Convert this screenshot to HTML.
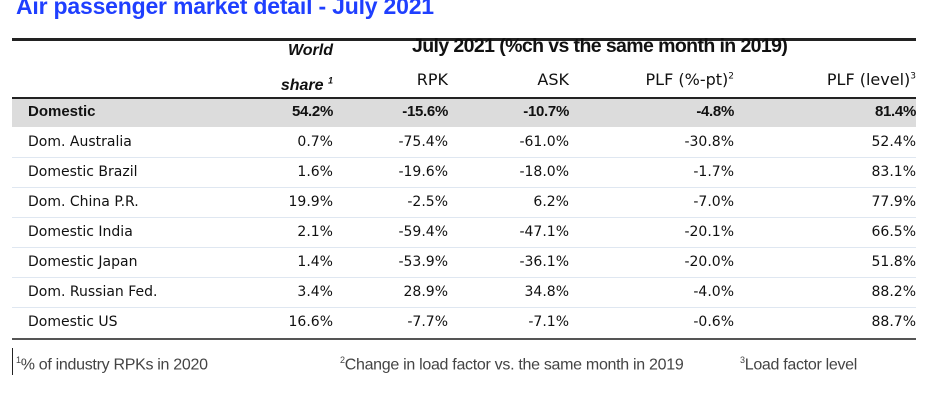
<!DOCTYPE html>
<html><head><meta charset="utf-8"><style>
body{margin:0;width:938px;height:401px;background:#fff;position:relative;overflow:hidden;font-family:"DejaVu Sans","Liberation Sans",sans-serif;color:#111}
.a{position:absolute;white-space:nowrap}
.r{text-align:right}
.row{position:absolute;left:12px;width:904px;height:30px}
.row span{position:absolute;top:0;line-height:30px;font-size:14px}
.sep{position:absolute;left:12px;width:904px;height:1px;background:#dfe7f1}
sup{font-size:9px}
.fn{font:16px 'Liberation Sans',sans-serif;color:#444;letter-spacing:-0.3px;top:355px}
</style></head><body>
<div class="a" style="left:16px;top:-8px;font:bold 23px 'Liberation Sans',sans-serif;color:#1f3fff;line-height:28px;letter-spacing:-0.2px">Air passenger market detail - July 2021</div>
<div class="a" style="left:12px;top:38px;width:904px;height:3px;background:#222"></div>
<div class="a" style="left:412px;top:34px;font:bold 19.5px 'Liberation Sans',sans-serif;line-height:24px;letter-spacing:-0.6px">July 2021 (%ch vs the same month in 2019)</div>
<div class="a r" style="left:233px;width:100px;top:40px;font:italic bold 16px 'Liberation Sans',sans-serif;line-height:22px">World<br><span style="line-height:38px">share <sup>1</sup></span></div>
<div class="a r" style="left:348px;width:100px;top:70px;font-size:16px">RPK</div>
<div class="a r" style="left:469px;width:100px;top:70px;font-size:16px">ASK</div>
<div class="a r" style="left:584px;width:150px;top:70px;font-size:16px">PLF (%-pt)<sup>2</sup></div>
<div class="a r" style="left:766px;width:150px;top:70px;font-size:16px">PLF (level)<sup>3</sup></div>
<div class="a" style="left:12px;top:97px;width:904px;height:2px;background:#222"></div>
<div id="rows"></div>
<div class="a" style="left:12px;top:338px;width:904px;height:2px;background:#555"></div>
<div class="a" style="left:12px;top:348px;width:1px;height:27px;background:#222"></div>
<div class="a fn" style="left:16px"><sup>1</sup>% of industry RPKs in 2020</div>
<div class="a fn" style="left:340px"><sup>2</sup>Change in load factor vs. the same month in 2019</div>
<div class="a fn" style="left:740px"><sup>3</sup>Load factor level</div>
<script>
const markets=["Domestic","Dom. Australia","Domestic Brazil","Dom. China P.R.","Domestic India","Domestic Japan","Dom. Russian Fed.","Domestic US"];
const share=["54.2%","0.7%","1.6%","19.9%","2.1%","1.4%","3.4%","16.6%"];
const rpk=["-15.6%","-75.4%","-19.6%","-2.5%","-59.4%","-53.9%","28.9%","-7.7%"];
const ask=["-10.7%","-61.0%","-18.0%","6.2%","-47.1%","-36.1%","34.8%","-7.1%"];
const plfPt=["-4.8%","-30.8%","-1.7%","-7.0%","-20.1%","-20.0%","-4.0%","-0.6%"];
const plfLevel=["81.4%","52.4%","83.1%","77.9%","66.5%","51.8%","88.2%","88.7%"];
const host=document.getElementById('rows');
const cols=[[share,321],[rpk,436],[ask,557],[plfPt,722],[plfLevel,904]];
markets.forEach((m,i)=>{
  const top=i===0?99:97+i*30;
  const row=document.createElement('div');
  row.className='row';
  row.style.top=top+'px';
  
  
  if(i===0){row.style.background='#dcdcdc';row.style.height='28px';row.style.fontWeight='bold';}
  const l=document.createElement('span');
  
  
  l.style.left='16px';l.textContent=m;
  if(i===0){l.style.lineHeight='26px';l.style.fontFamily="'Liberation Sans',sans-serif";l.style.fontSize='15px';}
  row.appendChild(l);
  cols.forEach(([arr,right])=>{
    const c=document.createElement('span');
    
    
    c.style.right=(904-right)+'px';c.textContent=arr[i];
    if(i===0){c.style.lineHeight='26px';c.style.fontFamily="'Liberation Sans',sans-serif";c.style.fontSize='15px';c.style.letterSpacing='-0.3px';}
    row.appendChild(c);
  });
  host.appendChild(row);
  if(i>0&&i<markets.length-1){
    const s=document.createElement('div');
    s.className='sep';s.style.top=(top+30)+'px';
    
    
    host.appendChild(s);
  }
});
</script>
</body></html>
